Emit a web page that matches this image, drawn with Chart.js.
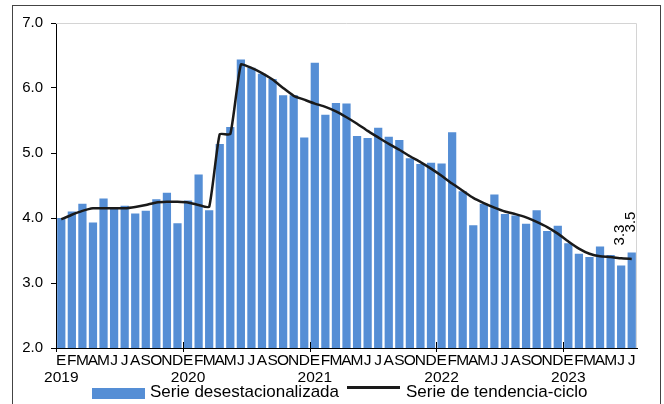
<!DOCTYPE html>
<html>
<head>
<meta charset="utf-8">
<script src="https://cdn.jsdelivr.net/npm/chart.js@4"></script>
<style>
  body { margin: 0; background: #fff; }
  #wrap { position: relative; width: 664px; height: 404px; }
  #frame { position: absolute; left: 12px; top: 5px; width: 649px; height: 420px; border: 1.5px solid #444; box-sizing: border-box; }
  #legend { position: absolute; top: 381px; left: 92px; font: 17px "Liberation Sans", Arial, sans-serif; color: #000; white-space: nowrap; line-height: 20px; }
  #legend span { display: inline-block; vertical-align: middle; }
  .box { width: 53px; height: 11px; background: #558ed5; margin-right: 5px; position: relative; top: 2px; }
  .ln { width: 53px; height: 3px; background: #1a1a1a; margin: 0 6px 0 8px; position: relative; top: -4px; }
</style>
</head>
<body>
<div id="wrap">
  <canvas id="chart" width="664" height="404"></canvas>
  <div id="frame"></div>
  <div id="legend">
    <span class="box"></span><span>Serie desestacionalizada</span><span class="ln"></span><span>Serie de tendencia-ciclo</span>
  </div>
</div>
<script>
const months = ['E', 'F', 'M', 'A', 'M', 'J', 'J', 'A', 'S', 'O', 'N', 'D'];
const years = ['2019', '2020', '2021', '2022', '2023'];
const monthsInLastYear = 7;

const desestacionalizada = [
  4.00, 4.10, 4.22, 3.93, 4.30, 4.14, 4.19, 4.07, 4.11, 4.29, 4.39, 3.92,
  4.27, 4.67, 4.12, 5.14, 5.40, 6.44, 6.31, 6.22, 6.14, 5.89, 5.89, 5.24,
  6.39, 5.59, 5.77, 5.76, 5.26, 5.23, 5.39, 5.25, 5.20, 4.92, 4.83, 4.85,
  4.84, 5.32, 4.41, 3.89, 4.22, 4.36, 4.06, 4.04, 3.91, 4.12, 3.80, 3.88,
  3.61, 3.45, 3.40, 3.56, 3.43, 3.27, 3.47
];
const tendencia = [
  3.98, 4.05, 4.11, 4.15, 4.15, 4.15, 4.15, 4.17, 4.20, 4.24, 4.25, 4.25,
  4.24, 4.20, 4.17, 5.29, 5.29, 6.36, 6.31, 6.23, 6.13, 6.00, 5.88, 5.82,
  5.76, 5.71, 5.64, 5.55, 5.45, 5.34, 5.24, 5.14, 5.05, 4.95, 4.86, 4.76,
  4.65, 4.53, 4.42, 4.31, 4.23, 4.16, 4.10, 4.06, 4.01, 3.94, 3.86, 3.76,
  3.64, 3.53, 3.45, 3.41, 3.40, 3.38, 3.37
];
// value labels shown above the last bars
const labeledBars = [53, 54];
const labeledText = ['3.3', '3.5'];

const labels = [];
years.forEach((y, yi) => {
  const n = yi === years.length - 1 ? monthsInLastYear : 12;
  for (let m = 0; m < n; m++) {
    labels.push(m === 0 ? [months[m], y] : [months[m], '']);
  }
});

const extras = {
  id: 'extras',
  afterDraw(chart) {
    const ctx = chart.ctx;
    const a = chart.chartArea;
    const xs = chart.scales.x;
    ctx.save();
    // light frame top and right
    ctx.strokeStyle = '#d4d4d4';
    ctx.lineWidth = 1;
    ctx.beginPath();
    ctx.moveTo(a.left, a.top + 0.5);
    ctx.lineTo(a.right - 0.5, a.top + 0.5);
    ctx.lineTo(a.right - 0.5, a.bottom);
    ctx.stroke();
    // year separators
    ctx.strokeStyle = '#000';
    ctx.lineWidth = 1;
    for (let i = 0; i < labels.length; i += 12) {
      const x = i === 0 ? a.left : (xs.getPixelForValue(i - 1) + xs.getPixelForValue(i)) / 2;
      ctx.beginPath();
      ctx.moveTo(Math.round(x) + 0.5, i === 0 ? a.bottom : a.bottom - 6);
      ctx.lineTo(Math.round(x) + 0.5, a.bottom + 4);
      ctx.stroke();
    }
    // rotated value labels
    const meta = chart.getDatasetMeta(1);
    ctx.fillStyle = '#000';
    ctx.font = '15px "Liberation Sans", Arial, sans-serif';
    ctx.textAlign = 'left';
    ctx.textBaseline = 'middle';
    labeledBars.forEach((idx, k) => {
      const bar = meta.data[idx];
      ctx.save();
      ctx.translate(bar.x - 1, bar.y - 20);
      ctx.rotate(-Math.PI / 2);
      ctx.fillText(labeledText[k], 0, 0);
      ctx.restore();
    });
    ctx.restore();
  }
};

new Chart(document.getElementById('chart'), {
  type: 'bar',
  data: {
    labels: labels,
    datasets: [{
      type: 'line',
      label: 'Serie de tendencia-ciclo',
      data: tendencia,
      borderColor: '#1a1a1a',
      borderWidth: 2.5,
      pointRadius: 0,
      tension: 0.15,
      fill: false,
      order: 0
    }, {
      label: 'Serie desestacionalizada',
      data: desestacionalizada,
      backgroundColor: '#558ed5',
      barPercentage: 0.78,
      categoryPercentage: 1,
      order: 1
    }]
  },
  options: {
    responsive: false,
    animation: false,
    layout: { padding: { left: 0, top: 23, right: 27, bottom: 0 } },
    plugins: { legend: { display: false }, tooltip: { enabled: false } },
    scales: {
      x: {
        offset: true,
        grid: { display: false, drawTicks: false, tickLength: 0 },
        border: { color: '#000', width: 1 },
        ticks: {
          autoSkip: false, maxRotation: 0, minRotation: 0, padding: 4,
          color: '#000',
          font: { family: '"Liberation Sans", Arial, sans-serif', size: 15.5, lineHeight: 1.12 }
        },
        afterFit(s) { s.height = 56; }
      },
      y: {
        min: 2, max: 7,
        grid: { display: true, drawOnChartArea: false, color: '#000', tickLength: 5 },
        border: { color: '#000', width: 1 },
        ticks: {
          stepSize: 1, color: '#000', padding: 8,
          font: { family: '"Liberation Sans", Arial, sans-serif', size: 15 },
          callback: (v) => v.toFixed(1)
        },
        afterFit(s) { s.width = 56; }
      }
    }
  },
  plugins: [extras]
});
</script>
</body>
</html>
